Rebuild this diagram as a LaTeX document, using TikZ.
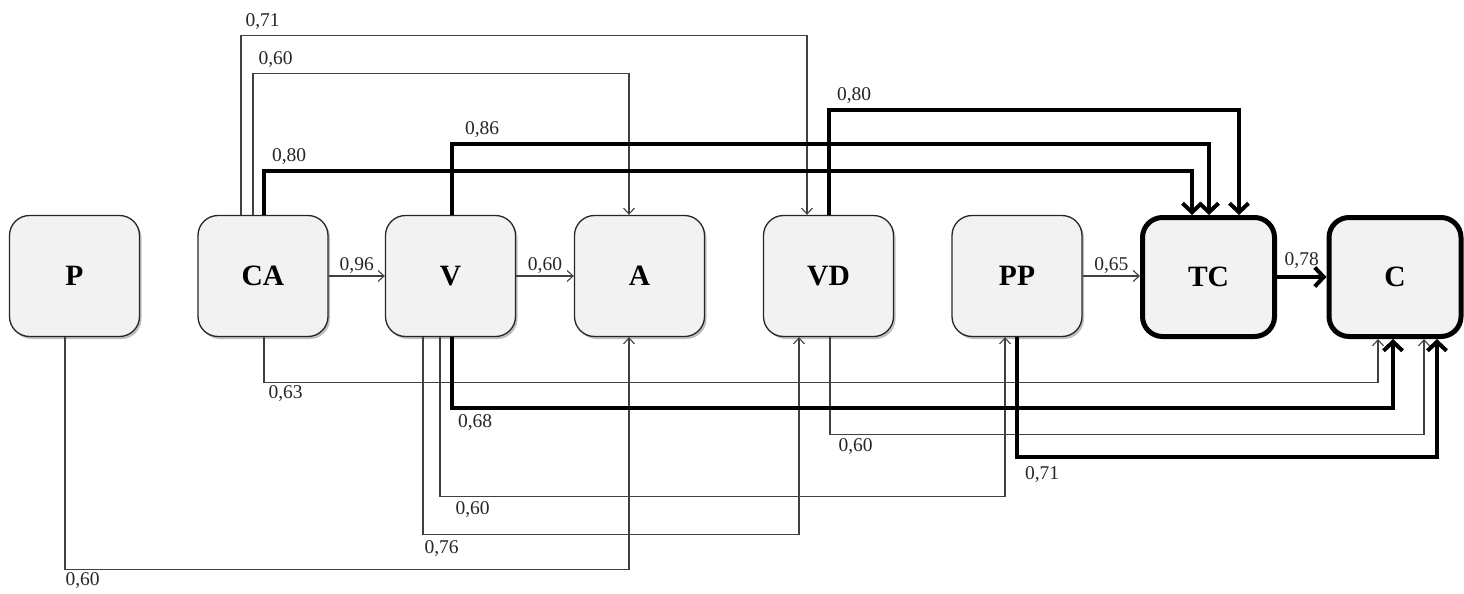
\documentclass[tikz,border=0pt]{standalone}
\usepackage{fontspec}
\setmainfont{Liberation Serif}
\usetikzlibrary{arrows.meta,shadows}
\begin{document}
\begin{tikzpicture}[x=1pt,y=-1pt,
  box/.style={draw=black!85, line width=1.3pt, rounded corners=20pt, fill=black!5,
    minimum width=130pt, minimum height=121pt, inner sep=0pt,
    font=\fontsize{29.5}{30}\selectfont\bfseries,
    drop shadow={shadow xshift=2pt, shadow yshift=-2.5pt, opacity=0.5}},
  bigbox/.style={draw=black, line width=5pt, rounded corners=20pt, fill=black!5,
    minimum width=132pt, minimum height=119pt, inner sep=0pt,
    font=\fontsize{29.5}{30}\selectfont\bfseries},
  thinarr/.style={draw=black!75, line width=1.1pt, -{Straight Barb[length=6pt,width=11pt]}},
  thickarr/.style={draw=black, line width=4pt, -{Straight Barb[length=9pt,width=19pt]}},
  lab/.style={font=\fontsize{19.5}{20}\selectfont, text=black!85, inner sep=0pt},
  toplab/.style={lab, anchor=west, xshift=#1, yshift=14pt},
  botlab/.style={lab, anchor=west, xshift=4pt, yshift=-13pt},
  midlab/.style={lab, midway, yshift=10pt},
]
\useasboundingbox (0,0) rectangle (1464,594);

% boxes
\node[box] (P)  at (74.5,276) {P};
\node[box] (CA) at (263,276) {CA};
\node[box] (V)  at (450.5,276) {V};
\node[box] (A)  at (639.5,276) {A};
\node[box] (VD) at (828.5,276) {VD};
\node[box] (PP) at (1017,276) {PP};
\node[bigbox] (TC) at (1208.5,277) {TC};
\node[bigbox] (C)  at (1395,277) {C};

% horizontal arrows
\draw[thinarr] (CA.east) -- (V.west) node[midlab]{0,96};
\draw[thinarr] (V.east) -- (A.west) node[midlab]{0,60};
\draw[thinarr] (PP.east) -- (PP.east -| TC.west) node[midlab]{0,65};

% thin top connectors
\draw[thinarr] ([xshift=-22pt]CA.north) -- ++(0,-179) node[toplab=4pt]{0,71} -| ([xshift=-21.5pt]VD.north);
\draw[thinarr] ([xshift=-10pt]CA.north) -- ++(0,-141) node[toplab=5pt]{0,60} -| ([xshift=-10.5pt]A.north);

% thin bottom connectors
\draw[thinarr] ([xshift=1pt]CA.south) -- ++(0,45) node[botlab, yshift=2pt]{0,63} -| ([xshift=-17pt]C.south);
\draw[thinarr] ([xshift=1.5pt]VD.south) -- ++(0,97) node[botlab, xshift=4pt, yshift=1pt]{0,60} -| ([xshift=29pt]C.south);
\draw[thinarr] ([xshift=-10.5pt]V.south) -- ++(0,159) node[botlab, xshift=11pt]{0,60} -| ([xshift=-12pt]PP.south);
\draw[thinarr] ([xshift=-27.5pt]V.south) -- ++(0,197) node[botlab, xshift=-3pt, yshift=-1pt]{0,76} -| ([xshift=-29.5pt]VD.south);
\draw[thinarr] ([xshift=-9.5pt]P.south) -- ++(0,232) node[botlab, xshift=-4pt, yshift=2pt]{0,60} -| ([xshift=-10.5pt]A.south);

% thick connectors
\draw[thickarr] ([xshift=1pt]CA.north) -- ++(0,-44) node[toplab=6pt]{0,80} -| ([xshift=-16.5pt]TC.north);
\draw[thickarr] ([xshift=1.5pt]V.north) -- ++(0,-71) node[toplab=11pt]{0,86} -| ([xshift=0.5pt]TC.north);
\draw[thickarr] ([xshift=0.5pt]VD.north) -- ++(0,-105) node[toplab=6pt]{0,80} -| ([xshift=30.5pt]TC.north);
\draw[thickarr] ([xshift=1.5pt]V.south) -- ++(0,71) node[botlab, yshift=-1pt]{0,68} -| ([xshift=-2pt]C.south);
\draw[thickarr] (PP.south) -- ++(0,120) node[botlab, xshift=2pt, yshift=-4pt]{0,71} -| ([xshift=42pt]C.south);
\draw[thickarr] (TC.east) -- (C.west) node[midlab, yshift=6pt]{0,78};
\end{tikzpicture}
\end{document}
